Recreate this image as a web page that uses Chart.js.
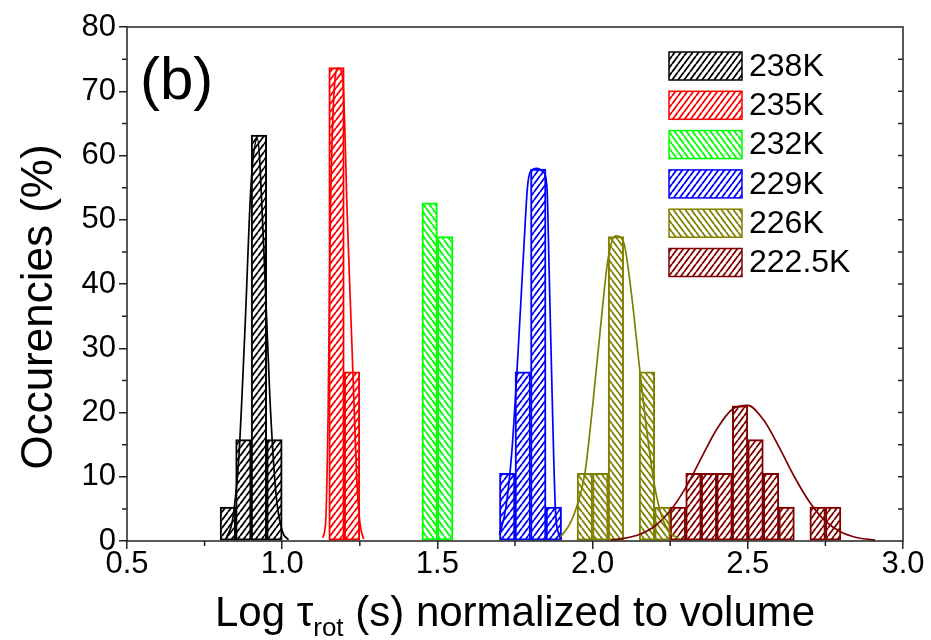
<!DOCTYPE html>
<html lang="en">
<head>
<meta charset="UTF-8">
<title>Log tau_rot histogram</title>
<script src="https://cdn.jsdelivr.net/npm/chart.js"></script>
<style>
  body { margin: 0; background: #fff; }
</style>
</head>
<body>
<canvas id="chart" width="931" height="640"></canvas>
<script>
// histogram bins (bin centres, width 0.05) and occurrences in %
const labels = ['238K', '235K', '232K', '229K', '226K', '222.5K'];
const colors = ['#000000', '#ff0000', '#00ff00', '#0000ff', '#808000', '#800000'];
const hatchDir = [1, 1, -1, 1, -1, 1];

const x238 = [0.825, 0.875, 0.925, 0.975];
const y238 = [5.26, 15.79, 63.16, 15.79];
const x235 = [1.175, 1.225];
const y235 = [73.68, 26.32];
const x232 = [1.475, 1.525];
const y232 = [52.63, 47.37];
const x229 = [1.725, 1.775, 1.825, 1.875];
const y229 = [10.53, 26.32, 57.89, 5.26];
const x226 = [1.975, 2.025, 2.075, 2.175, 2.225];
const y226 = [10.53, 10.53, 47.37, 26.32, 5.26];
const x222 = [2.275, 2.325, 2.375, 2.425, 2.475, 2.525, 2.575, 2.625, 2.725, 2.775];
const y222 = [5.26, 10.53, 10.53, 10.53, 21.05, 15.79, 10.53, 5.26, 5.26, 5.26];

// fitted curves, points
const fitX238 = [0.82, 0.84, 0.86, 0.88, 0.90, 0.92, 0.94, 0.96, 0.98, 1.00, 1.02];
const fitY238 = [0.5, 3.3, 12.8, 32.9, 55.8, 62.6, 46.3, 22.6, 7.3, 1.6, 0.2];
const fitX235 = [1.13, 1.14, 1.148, 1.155, 1.165, 1.18, 1.195, 1.21, 1.228, 1.24, 1.25, 1.262];
const fitY235 = [0.5, 3, 20, 50, 68, 73.6, 72, 50, 26, 10, 3, 0.3];
const fitX229 = [1.70, 1.72, 1.74, 1.76, 1.78, 1.79, 1.80, 1.82, 1.84, 1.853, 1.86, 1.87, 1.88, 1.89, 1.90];
const fitY229 = [1, 5, 14, 29.5, 47, 55, 57.5, 58, 57.5, 55, 42, 22, 5, 1.2, 0.3];
const fitX226 = [1.89, 1.925, 1.95, 1.975, 2.00, 2.025, 2.05, 2.075, 2.10, 2.125, 2.15, 2.175, 2.20, 2.225, 2.25, 2.28];
const fitY226 = [0.3, 2.5, 5.5, 10.5, 21, 33, 44, 47.5, 46.5, 38.5, 27.5, 17, 8.5, 3.5, 1.3, 0.3];
const fitX222 = [2.06, 2.10, 2.15, 2.20, 2.25, 2.30, 2.35, 2.40, 2.45, 2.50, 2.55, 2.60, 2.65, 2.70, 2.75, 2.80, 2.85, 2.91];
const fitY222 = [0.15, 0.4, 1.0, 2.3, 4.7, 8.3, 12.9, 17.4, 20.5, 21.1, 18.9, 14.7, 10.0, 6.0, 3.1, 1.4, 0.55, 0.15];

const xTicks = [0.5, 1.0, 1.5, 2.0, 2.5, 3.0];
const yTicks = [0, 10, 20, 30, 40, 50, 60, 70, 80];

const FONT = '"Liberation Sans", Arial, Helvetica, sans-serif';

function hatch(color, dir) {
    const w = 6, h = 8;
    const c = document.createElement('canvas');
    c.width = w; c.height = h;
    const g = c.getContext('2d');
    g.fillStyle = '#fff';
    g.fillRect(0, 0, w, h);
    g.strokeStyle = color;
    g.lineWidth = 1.8;
    g.beginPath();
    for (const dx of [-w, 0, w]) {
        if (dir > 0) { g.moveTo(dx, h); g.lineTo(dx + w, 0); }
        else { g.moveTo(dx, 0); g.lineTo(dx + w, h); }
    }
    g.stroke();
    return g.createPattern(c, 'repeat');
}

const pts = (xs, ys) => xs.map((x, i) => ({ x: x, y: ys[i] }));

const barSets = [[x238, y238], [x235, y235], [x232, y232], [x229, y229], [x226, y226], [x222, y222]];
const fitSets = [[fitX238, fitY238, 0], [fitX235, fitY235, 1], [fitX229, fitY229, 3], [fitX226, fitY226, 4], [fitX222, fitY222, 5]];

const datasets = [];
barSets.forEach(([xs, ys], i) => {
    datasets.push({
        type: 'bar',
        label: labels[i],
        data: pts(xs, ys),
        backgroundColor: hatch(colors[i], hatchDir[i]),
        borderColor: colors[i],
        borderWidth: 2,
        borderSkipped: false,
        grouped: false,
        barPercentage: 1,
        categoryPercentage: 1,
        order: 1
    });
});
fitSets.forEach(([xs, ys, ci]) => {
    datasets.push({
        type: 'line',
        label: labels[ci] + ' fit',
        data: pts(xs, ys),
        borderColor: colors[ci],
        borderWidth: 1.7,
        pointRadius: 0,
        fill: false,
        cubicInterpolationMode: 'monotone',
        order: 0
    });
});

const decor = {
    id: 'decor',
    afterDraw(chart) {
        const { ctx, chartArea: a, scales: { x, y } } = chart;
        ctx.save();
        ctx.strokeStyle = '#222';
        ctx.lineWidth = 1.5;
        ctx.strokeRect(a.left, a.top, a.right - a.left, a.bottom - a.top);

        // minor ticks and right-hand inner ticks
        ctx.beginPath();
        for (let v = 5; v < 80; v += 10) {
            const py = y.getPixelForValue(v);
            ctx.moveTo(a.left - 5, py); ctx.lineTo(a.left, py);
        }
        for (let v = 5; v < 80; v += 5) {
            const py = y.getPixelForValue(v);
            ctx.moveTo(a.right - 5, py); ctx.lineTo(a.right, py);
        }
        for (let v = 0.75; v < 3; v += 0.5) {
            const px = x.getPixelForValue(v);
            ctx.moveTo(px, a.bottom); ctx.lineTo(px, a.bottom + 5);
        }
        ctx.stroke();

        // legend
        ctx.font = '32px ' + FONT;
        ctx.textBaseline = 'middle';
        ctx.fillStyle = '#000';
        const bars = chart.data.datasets.filter(d => d.type === 'bar');
        bars.forEach((d, i) => {
            const top = 52 + i * 39.3;
            ctx.fillStyle = d.backgroundColor;
            ctx.fillRect(669, top, 73, 28);
            ctx.strokeStyle = d.borderColor;
            ctx.strokeRect(669, top, 73, 28);
            ctx.fillStyle = '#000';
            ctx.fillText(d.label, 749, top + 15);
        });

        // panel label
        ctx.font = '60px ' + FONT;
        ctx.fillText('(b)', 140, 82);

        // y title
        ctx.save();
        ctx.translate(40, 307);
        ctx.rotate(-Math.PI / 2);
        ctx.font = '44px ' + FONT;
        ctx.textAlign = 'center';
        ctx.textBaseline = 'middle';
        ctx.fillText('Occurencies (%)', 0, 0);
        ctx.restore();

        // x title with subscript
        const big = '42px ' + FONT, small = '26px ' + FONT;
        const p1 = 'Log \u03c4', p2 = 'rot', p3 = ' (s) normalized to volume';
        ctx.textBaseline = 'alphabetic';
        ctx.font = big;
        const w1 = ctx.measureText(p1).width, w3 = ctx.measureText(p3).width;
        ctx.font = small;
        const w2 = ctx.measureText(p2).width;
        let sx = (a.left + a.right) / 2 - (w1 + w2 + w3) / 2;
        ctx.font = big;
        ctx.fillText(p1, sx, 626);
        ctx.font = small;
        ctx.fillText(p2, sx + w1, 636);
        ctx.font = big;
        ctx.fillText(p3, sx + w1 + w2, 626);
        ctx.restore();
    }
};

new Chart(document.getElementById('chart'), {
    type: 'bar',
    data: { datasets: datasets },
    options: {
        responsive: false,
        animation: false,
        layout: { padding: { top: 27, right: 28, left: 0, bottom: 0 } },
        plugins: { legend: { display: false }, tooltip: { enabled: false } },
        scales: {
            x: {
                type: 'linear',
                offset: false,
                min: xTicks[0],
                max: xTicks[xTicks.length - 1],
                afterBuildTicks: s => { s.ticks = xTicks.map(v => ({ value: v })); },
                afterFit: s => { s.height = 99; },
                grid: { drawOnChartArea: false, drawTicks: true, tickLength: 8, color: '#222', lineWidth: 1.5, offset: false },
                border: { display: false },
                ticks: {
                    color: '#000',
                    font: { size: 31, family: FONT },
                    padding: -3,
                    maxRotation: 0,
                    autoSkip: false,
                    callback: v => v.toFixed(1)
                }
            },
            y: {
                min: yTicks[0],
                max: yTicks[yTicks.length - 1],
                afterBuildTicks: s => { s.ticks = yTicks.map(v => ({ value: v })); },
                afterFit: s => { s.width = 127; },
                grid: { drawOnChartArea: false, drawTicks: true, tickLength: 8, color: '#222', lineWidth: 1.5 },
                border: { display: false },
                ticks: {
                    color: '#000',
                    font: { size: 31, family: FONT },
                    padding: 3,
                    autoSkip: false
                }
            }
        }
    },
    plugins: [decor]
});
</script>
</body>
</html>
